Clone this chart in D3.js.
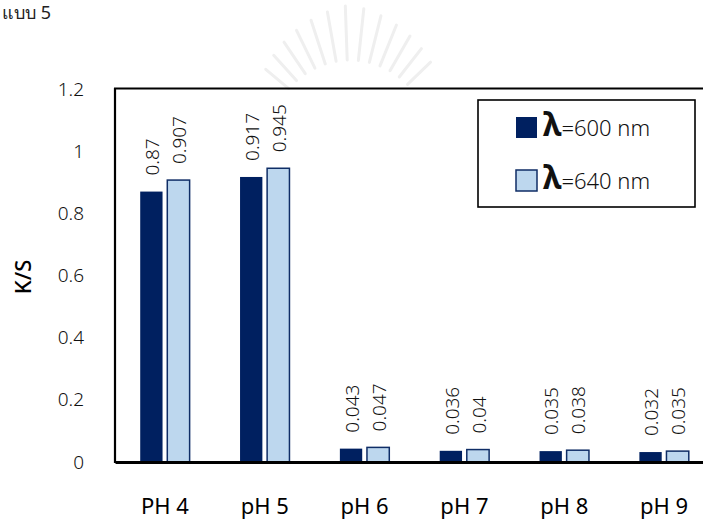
<!DOCTYPE html>
<html><head><meta charset="utf-8">
<script src="https://cdn.jsdelivr.net/npm/d3@7"></script>
<style>body{margin:0;background:#fff}svg{display:block}</style>
</head><body><svg id="c" width="703" height="521"></svg>
<script>
const categories = ["PH 4","pH 5","pH 6","pH 7","pH 8","pH 9"];
const seriesNames = ["600","640"];
const values600 = [0.87,0.917,0.043,0.036,0.035,0.032];
const values640 = [0.907,0.945,0.047,0.04,0.038,0.035];
const labels600 = ["0.87","0.917","0.043","0.036","0.035","0.032"];
const labels640 = ["0.907","0.945","0.047","0.04","0.038","0.035"];
const yTicks = [0,0.2,0.4,0.6,0.8,1,1.2];

const svg = d3.select("#c");
const F = "'Noto Sans', 'Open Sans', sans-serif";
const colors = {"600":"#002060","640":"#BDD7EE"};

// faint watermark fan (background)
const wm = svg.append("g").attr("stroke","#efefef").attr("fill","none").attr("stroke-linecap","round");
d3.range(-50, 51, 8).forEach(a=>{
  const r = a*Math.PI/180, cx=350, cy=140;
  wm.append("line").attr("x1",cx+Math.sin(r)*80).attr("y1",cy-Math.cos(r)*80)
    .attr("x2",cx+Math.sin(r)*(135-Math.abs(a)*0.5)).attr("y2",cy-Math.cos(r)*(135-Math.abs(a)*0.5)).attr("stroke-width",3);
});
svg.append("rect").attr("x",116).attr("y",90).attr("width",600).attr("height",371).attr("fill","#fff");

// caption at top
svg.append("text").attr("x",2).attr("y",19).attr("font-family",F).attr("font-size",18)
  .attr("fill","#222").text("แบบ 5");

const x0 = d3.scaleBand().domain(categories).range([115,714]).paddingInner(0.49).paddingOuter(0.245);
const x1 = d3.scaleBand().domain(seriesNames).range([0,x0.bandwidth()]).paddingInner(0.12);
const y = d3.scaleLinear().domain([0,1.2]).range([462,89]);

const data = categories.map((c,i)=>({c, vals:[
  {s:"600", v:values600[i], l:labels600[i]},
  {s:"640", v:values640[i], l:labels640[i]}]}));

const g = svg.append("g");
const grp = g.selectAll("g.cat").data(data).join("g").attr("transform",d=>`translate(${x0(d.c)},0)`);
grp.selectAll("rect").data(d=>d.vals).join("rect")
  .attr("x",d=>x1(d.s)+0.75).attr("width",x1.bandwidth()-1.5)
  .attr("y",d=>y(d.v)).attr("height",d=>y(0)-y(d.v))
  .attr("fill",d=>colors[d.s]).attr("stroke","#0f2d66").attr("stroke-width",d=>d.s==="640"?1.5:0);
grp.selectAll("text").data(d=>d.vals).join("text")
  .attr("transform",d=>`translate(${x1(d.s)+x1.bandwidth()/2+1},${y(d.v)-16}) rotate(-90)`)
  .attr("dy","0.35em").attr("font-family",F).attr("font-size",19).attr("font-weight",300)
  .attr("fill","#111").text(d=>d.l);

// axes frame
const yAxis = d3.axisLeft(y).tickValues(yTicks).tickSize(0).tickPadding(0).tickFormat(d3.format("~g"));
const ya = svg.append("g").attr("transform","translate(84,0)").call(yAxis);
ya.select(".domain").remove();
ya.selectAll("text").attr("font-family",F).attr("font-size",19).attr("font-weight",300).attr("fill","#111");

svg.append("line").attr("x1",115).attr("x2",115).attr("y1",88).attr("y2",463).attr("stroke","#000").attr("stroke-width",2.2);
svg.append("line").attr("x1",114).attr("x2",703).attr("y1",88.5).attr("y2",88.5).attr("stroke","#000").attr("stroke-width",2);

const xAxis = d3.axisBottom(x0).tickSize(0).tickPadding(0);
const xa = svg.append("g").attr("transform","translate(0,462)").call(xAxis);
xa.select(".domain").attr("stroke","#000").attr("stroke-width",2.8);
xa.selectAll("text").attr("dy",null).attr("y",52).attr("font-family",F).attr("font-size",22).attr("font-weight",400).attr("fill","#000");

// y title
svg.append("text").attr("transform","translate(31,277) rotate(-90)").attr("text-anchor","middle")
  .attr("font-family",F).attr("font-size",22).attr("font-weight",500).text("K/S");

// legend
const lg = svg.append("g");
lg.append("rect").attr("x",478).attr("y",100).attr("width",217).attr("height",107)
  .attr("fill","#fff").attr("stroke","#000").attr("stroke-width",1.6);
seriesNames.forEach((s,i)=>{
  const yy = 117 + i*53;
  lg.append("rect").attr("x",516).attr("y",yy).attr("width",21).attr("height",21)
    .attr("fill",colors[s]).attr("stroke","#0f2d66").attr("stroke-width",s==="640"?1.5:0);
  const t = lg.append("text").attr("x",543).attr("y",yy+19).attr("font-family",F).attr("fill","#111");
  t.append("tspan").attr("font-size",32).attr("font-weight",700).text("λ");
  t.append("tspan").attr("font-size",22).attr("font-weight",300).text("=" + s + " nm");
});
</script></body></html>
